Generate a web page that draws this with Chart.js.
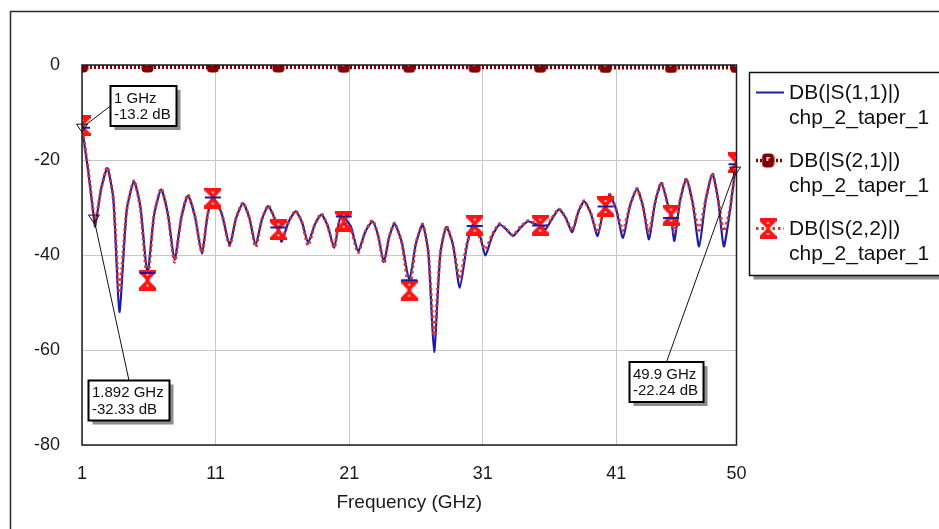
<!DOCTYPE html>
<html>
<head>
<meta charset="utf-8">
<script src="https://cdn.jsdelivr.net/npm/chart.js@4.4.1/dist/chart.umd.min.js"></script>
<style>
  html, body { margin: 0; padding: 0; background: #fff; }
  #wrap { width: 939px; height: 529px; }
</style>
</head>
<body>
<div id="wrap"><canvas id="sparams" width="939" height="529"></canvas></div>
<script>
// Swept S-parameters of chp_2_taper_1, 1 - 50 GHz, [GHz, dB]
const circuitName = 'chp_2_taper_1';
const seriesNames = ['DB(|S(1,1)|)', 'DB(|S(2,1)|)', 'DB(|S(2,2)|)'];
const markerFreqs = [1, 5.9, 10.8, 15.7, 20.6, 25.5, 30.4, 35.3, 40.2, 45.1, 50];
const xTickValues = [1, 11, 21, 31, 41, 50];
const yTickValues = [0, -20, -40, -60, -80];

const s11Trace = [
  [1.0, -13.2], [1.45, -22.0], [1.892, -32.33], [1.98, -34.0], [2.44, -26.0], [2.9, -21.7],
  [3.35, -28.3], [3.8, -52.0], [4.35, -30.5], [4.9, -24.5], [5.38, -30.0], [5.9, -43.8],
  [6.39, -31.7], [6.93, -26.2], [7.43, -31.4], [7.93, -40.9], [8.43, -32.2], [8.93, -27.5],
  [9.45, -31.8], [9.98, -39.7], [10.4, -31.6], [10.8, -27.9], [11.45, -31.2], [12.05, -37.8],
  [12.55, -32.1], [13.05, -29.1], [13.52, -32.1], [14.0, -37.8], [14.47, -32.5], [14.94, -29.7],
  [15.3, -31.5], [15.7, -34.2], [15.94, -37.2], [16.47, -33.0], [17.0, -30.8], [17.47, -33.1],
  [17.93, -37.4], [18.43, -33.6], [18.93, -31.5], [19.4, -33.9], [19.88, -38.5], [20.2, -33.6],
  [20.45, -31.2], [20.6, -31.9], [21.13, -34.0], [21.67, -39.2], [22.21, -35.1], [22.75, -32.9],
  [23.17, -35.9], [23.6, -41.5], [24.0, -36.2], [24.4, -33.4], [24.95, -37.4], [25.5, -45.3],
  [26.0, -37.6], [26.5, -33.6], [26.93, -39.5], [27.36, -60.4], [27.82, -39.9], [28.28, -34.1],
  [28.78, -37.9], [29.28, -46.9], [29.84, -37.6], [30.25, -33.6], [30.4, -33.9], [30.8, -35.9],
  [31.2, -40.1], [31.73, -35.9], [32.27, -33.6], [32.8, -34.7], [33.27, -36.0], [33.85, -34.2],
  [34.4, -32.9], [34.85, -33.4], [35.3, -33.8], [35.7, -34.6], [36.15, -32.6], [36.7, -30.4],
  [37.2, -32.1], [37.7, -35.2], [38.15, -31.0], [38.6, -28.7], [39.1, -31.3], [39.6, -36.0],
  [40.05, -30.3], [40.2, -29.8], [40.5, -27.3], [41.0, -30.5], [41.5, -36.4], [42.02, -29.7],
  [42.55, -26.1], [43.0, -29.8], [43.45, -36.7], [43.9, -29.0], [44.37, -24.8], [44.83, -29.1],
  [45.1, -32.2], [45.35, -37.0], [45.77, -28.6], [46.24, -24.0], [46.72, -29.0], [47.2, -38.2],
  [47.7, -28.3], [48.2, -22.9], [48.62, -28.3], [49.05, -38.2], [49.5, -30.9], [49.9, -22.24],
  [50.0, -20.9]
];

const s22Trace = [
  [1.0, -12.8], [1.45, -21.8], [1.892, -32.0], [1.98, -33.5], [2.44, -26.0], [2.9, -21.5],
  [3.35, -28.3], [3.8, -48.0], [4.35, -30.5], [4.9, -24.3], [5.38, -30.5], [5.9, -45.3],
  [6.39, -31.7], [6.93, -26.0], [7.43, -31.4], [7.93, -41.5], [8.43, -32.2], [8.93, -27.3],
  [9.45, -31.8], [9.98, -39.5], [10.4, -31.6], [10.8, -28.0], [11.45, -31.2], [12.05, -38.0],
  [12.55, -32.1], [13.05, -29.0], [13.52, -32.1], [14.0, -38.3], [14.47, -32.5], [14.94, -29.6],
  [15.3, -31.5], [15.7, -34.7], [15.94, -37.0], [16.47, -33.0], [17.0, -30.7], [17.47, -33.1],
  [17.93, -38.0], [18.43, -33.6], [18.93, -31.3], [19.4, -33.9], [19.88, -38.5], [20.2, -33.6],
  [20.45, -31.8], [20.6, -32.9], [21.13, -34.5], [21.67, -39.5], [22.21, -35.1], [22.75, -32.7],
  [23.17, -35.9], [23.6, -41.8], [24.0, -36.2], [24.4, -33.3], [24.95, -37.6], [25.5, -47.4],
  [26.0, -37.6], [26.5, -33.5], [26.93, -39.5], [27.36, -57.0], [27.82, -39.9], [28.28, -33.9],
  [28.78, -37.9], [29.28, -45.0], [29.84, -37.4], [30.4, -33.7], [30.8, -36.5], [31.2, -38.8],
  [31.73, -35.6], [32.27, -33.4], [32.8, -34.7], [33.27, -35.8], [33.85, -34.0], [34.4, -32.8],
  [34.85, -33.2], [35.3, -33.7], [35.7, -34.3], [36.15, -32.4], [36.7, -30.3], [37.2, -32.1],
  [37.7, -34.8], [38.15, -31.0], [38.6, -28.6], [39.1, -31.3], [39.6, -35.3], [40.05, -30.3],
  [40.2, -29.8], [40.5, -27.2], [41.0, -30.5], [41.5, -34.8], [42.02, -29.7], [42.55, -26.0],
  [43.0, -29.8], [43.45, -35.2], [43.9, -29.0], [44.37, -24.7], [44.83, -29.1], [45.1, -31.6],
  [45.35, -35.3], [45.77, -28.6], [46.24, -23.9], [46.72, -29.0], [47.2, -34.8], [47.7, -28.3],
  [48.2, -22.8], [48.62, -28.3], [49.05, -35.0], [49.5, -30.5], [49.9, -22.0], [50.0, -20.6]
];

const s21Trace = [
  [1, -0.1], [5.9, -0.1], [10.8, -0.1], [15.7, -0.1], [20.6, -0.15], [25.5, -0.15],
  [30.4, -0.15], [35.3, -0.15], [40.2, -0.2], [45.1, -0.2], [50, -0.2]
];

// marker readouts placed on the S(1,1) trace
const readoutFreq = [1, 1.892, 49.9];
const readoutDb = [-13.2, -32.33, -22.24];

const FONT = "'Liberation Sans', Arial, sans-serif";
const NAVY = '#1c1ca6';
const RED_DOT = '#d03434';
const RED_MARK = '#ff1414';
const DARK_RED = '#820000';

const toPoints = trace => trace.map(p => ({ x: p[0], y: p[1] }));
const isMarker = x => markerFreqs.some(f => Math.abs(f - x) < 1e-6);
const markerRadius = r => c => (c.raw && isMarker(c.raw.x)) ? r : 0;

function hourglassMark(color) {
  const c = document.createElement('canvas');
  c.width = 17; c.height = 21;
  const g = c.getContext('2d');
  g.fillStyle = color;
  g.beginPath();
  g.moveTo(0, 0); g.lineTo(17, 0); g.lineTo(17, 3); g.lineTo(10.5, 9.5);
  g.lineTo(10.5, 11.5); g.lineTo(17, 18); g.lineTo(17, 21); g.lineTo(0, 21);
  g.lineTo(0, 18); g.lineTo(6.5, 11.5); g.lineTo(6.5, 9.5); g.lineTo(0, 3);
  g.closePath(); g.fill();
  g.fillStyle = 'rgba(255,255,255,0.8)';
  g.fillRect(7.5, 4, 2, 2); g.fillRect(7.5, 15, 2, 2);
  return c;
}

function roundedMark(color) {
  const c = document.createElement('canvas');
  c.width = 13; c.height = 15;
  const g = c.getContext('2d');
  g.fillStyle = color;
  g.beginPath(); g.roundRect(0.5, 0.5, 12, 14, 4); g.fill();
  g.fillStyle = '#fff';
  g.fillRect(5, 4, 1.6, 4); g.fillRect(6.6, 4, 1.8, 1.4);
  return c;
}

const hourglass = hourglassMark(RED_MARK);
const rounded = roundedMark(DARK_RED);

// frame, plot border, readout boxes and the side legend
const decorations = {
  id: 'decorations',
  beforeDraw(chart) {
    const ctx = chart.ctx;
    ctx.save();
    ctx.strokeStyle = '#2a2a2a';
    ctx.lineWidth = 1.5;
    ctx.beginPath();
    ctx.moveTo(10.5, 529); ctx.lineTo(10.5, 11.5); ctx.lineTo(939, 11.5);
    ctx.stroke();
    ctx.restore();
  },
  afterDatasetsDraw(chart) {
    const { ctx, chartArea: a, scales: { x, y } } = chart;
    ctx.save();
    ctx.strokeStyle = '#1e1e1e';
    ctx.lineWidth = 1.5;
    ctx.strokeRect(a.left, a.top, a.right - a.left, a.bottom - a.top);

    // readouts
    const boxes = [
      { left: 110.5, top: 86, attach: 'left' },
      { left: 88.5, top: 380.5, attach: 'top' },
      { left: 629.5, top: 362, attach: 'top' }
    ];
    ctx.font = '15px ' + FONT;
    readoutFreq.forEach((f, i) => {
      const px = x.getPixelForValue(f);
      const py = y.getPixelForValue(readoutDb[i]);
      const l1 = f + ' GHz';
      const l2 = readoutDb[i] + ' dB';
      const w = Math.round(Math.max(ctx.measureText(l1).width, ctx.measureText(l2).width) + 9);
      const h = 40;
      const b = boxes[i];
      const ax = b.attach === 'left' ? b.left : b.left + w / 2;
      const ay = b.attach === 'left' ? b.top + h / 2 : b.top;
      ctx.strokeStyle = '#111';
      ctx.lineWidth = 1;
      ctx.beginPath(); ctx.moveTo(px, py); ctx.lineTo(ax, ay); ctx.stroke();
      // little down-pointing marker triangle
      ctx.beginPath();
      ctx.moveTo(px - 5.5, py - 3.5); ctx.lineTo(px + 5.5, py - 3.5); ctx.lineTo(px, py + 4.5);
      ctx.closePath(); ctx.stroke();
      ctx.fillStyle = '#8e8e8e';
      ctx.fillRect(b.left + 4, b.top + 4, w, h);
      ctx.fillStyle = '#fff';
      ctx.fillRect(b.left, b.top, w, h);
      ctx.lineWidth = 2;
      ctx.strokeStyle = '#000';
      ctx.strokeRect(b.left, b.top, w, h);
      ctx.fillStyle = '#111';
      ctx.textBaseline = 'alphabetic';
      ctx.textAlign = 'left';
      ctx.fillText(l1, b.left + 3.5, b.top + 16.7);
      ctx.fillText(l2, b.left + 3.5, b.top + 33.3);
    });

    // legend
    const lg = { left: 749.5, top: 72.5, w: 200, h: 203 };
    ctx.fillStyle = '#8e8e8e';
    ctx.fillRect(lg.left + 4, lg.top + 4, lg.w, lg.h);
    ctx.fillStyle = '#fff';
    ctx.fillRect(lg.left, lg.top, lg.w, lg.h);
    ctx.strokeStyle = '#111';
    ctx.lineWidth = 1.5;
    ctx.strokeRect(lg.left, lg.top, lg.w, lg.h);
    ctx.font = '21px ' + FONT;
    seriesNames.forEach((name, i) => {
      const sy = 92.5 + i * 68;
      ctx.save();
      ctx.beginPath();
      ctx.moveTo(756, sy); ctx.lineTo(784, sy);
      if (i === 0) {
        ctx.strokeStyle = NAVY; ctx.lineWidth = 2;
      } else if (i === 1) {
        ctx.strokeStyle = DARK_RED; ctx.lineWidth = 3.5; ctx.setLineDash([2, 2]);
      } else {
        ctx.strokeStyle = RED_DOT; ctx.lineWidth = 3; ctx.setLineDash([2.5, 3]);
      }
      ctx.stroke();
      ctx.restore();
      if (i === 1) ctx.drawImage(rounded, 768 - 6.5, sy - 7.5);
      if (i === 2) ctx.drawImage(hourglass, 768 - 8.5, sy - 10.5);
      ctx.fillStyle = '#111';
      ctx.fillText(name, 789, sy + 6);
      ctx.fillText(circuitName, 789, sy + 31.5);
    });
    ctx.restore();
  }
};

const tickFont = { family: FONT, size: 18 };
const titleFont = { family: FONT, size: 19 };

new Chart(document.getElementById('sparams'), {
  type: 'line',
  data: {
    datasets: [
      {
        label: seriesNames[0] + ' markers',
        data: toPoints(s11Trace),
        showLine: false,
        pointStyle: 'line',
        pointRadius: markerRadius(8),
        pointBorderColor: NAVY,
        pointBorderWidth: 2,
        clip: 0,
        order: 0
      },
      {
        label: seriesNames[2],
        data: toPoints(s22Trace),
        borderColor: RED_DOT,
        borderWidth: 3,
        borderDash: [2.5, 3],
        tension: 0.2,
        pointStyle: hourglass,
        pointRadius: markerRadius(8),
        clip: 0,
        order: 1
      },
      {
        label: seriesNames[0],
        data: toPoints(s11Trace),
        borderColor: NAVY,
        borderWidth: 2.2,
        tension: 0.2,
        pointRadius: 0,
        clip: 0,
        order: 2
      },
      {
        label: seriesNames[1],
        data: toPoints(s21Trace),
        borderColor: DARK_RED,
        borderWidth: 7,
        borderDash: [2, 2],
        pointStyle: rounded,
        pointRadius: markerRadius(6),
        clip: 0,
        order: 3
      }
    ]
  },
  options: {
    responsive: false,
    animation: false,
    layout: { padding: { left: 0, top: 65, right: 202.5, bottom: 0 } },
    plugins: {
      legend: { display: false },
      tooltip: { enabled: false }
    },
    scales: {
      x: {
        type: 'linear',
        min: 1,
        max: 50,
        afterBuildTicks: s => { s.ticks = xTickValues.map(v => ({ value: v })); },
        afterFit: s => { s.height = 84; },
        grid: { color: '#c8c8c8', lineWidth: 1, drawTicks: false },
        border: { display: false },
        ticks: { padding: 18, font: tickFont, color: '#1a1a1a', maxRotation: 0, autoSkip: false },
        title: {
          display: true,
          text: 'Frequency (GHz)',
          font: titleFont,
          color: '#1a1a1a',
          padding: { top: 0, bottom: 15 }
        }
      },
      y: {
        min: -80,
        max: 0,
        afterBuildTicks: s => { s.ticks = yTickValues.map(v => ({ value: v })); },
        afterFit: s => { s.width = 82; },
        grid: { color: '#c8c8c8', lineWidth: 1, drawTicks: false },
        border: { display: false },
        ticks: { padding: 22, font: tickFont, color: '#1a1a1a' }
      }
    }
  },
  plugins: [decorations]
});
</script>
</body>
</html>
